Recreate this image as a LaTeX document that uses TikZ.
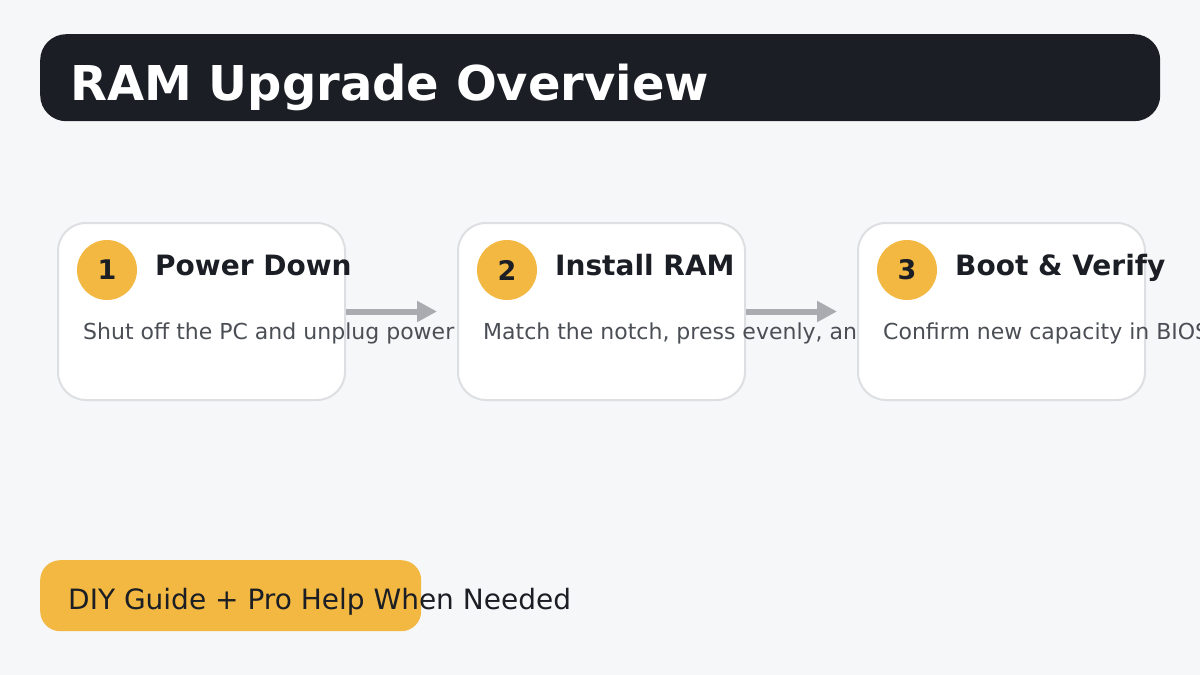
\documentclass[tikz,border=0pt]{standalone}
\usepackage{fontspec}
\setmainfont{DejaVu Sans}
\usetikzlibrary{arrows.meta}

\definecolor{bg}{HTML}{F6F7F9}
\definecolor{ink}{HTML}{1B1E24}
\definecolor{amber}{HTML}{F3B841}
\definecolor{edge}{HTML}{DDDFE2}
\definecolor{muted}{HTML}{4B4F55}
\definecolor{shaft}{HTML}{A9ABB0}

\newcommand{\fsz}[1]{\fontsize{#1}{#1}\selectfont}

\begin{document}
\begin{tikzpicture}[x=1pt, y=-1pt,
    card/.style={draw=edge, line width=2pt, fill=white, rounded corners=28pt,
        minimum width=287pt, minimum height=177pt, inner sep=0pt, anchor=north west},
    badge/.style={circle, fill=amber, minimum size=60pt, inner sep=0pt,
        text=ink, font=\bfseries\fsz{27}},
    head/.style={anchor=base west, inner sep=0pt, text=ink, font=\bfseries\fsz{28}},
    body/.style={anchor=base west, inner sep=0pt, text=muted, font=\fsz{22}},
    flow/.style={draw=shaft, line width=6pt, -{Triangle[length=20pt,width=20pt]},
        shorten >=20pt}]
    \useasboundingbox (0,0) rectangle (1200,675);
    \fill [bg] (0,0) rectangle (1200,675);
    % title bar
    \node [anchor=north west, fill=ink, rounded corners=26pt, minimum width=1120pt,
        minimum height=87pt, inner sep=0pt] (banner) at (40,34) {};
    \node [anchor=base west, inner sep=0pt, text=white, font=\bfseries\fsz{48}]
        (title) at (70,100) {RAM Upgrade Overview};
    % step 1
    \node [card] (card1) at (57,222) {};
    \node [badge] (num1) at (107,270) {1};
    \node [head] (head1) at (155,275) {Power Down};
    \node [body] (text1) at (83,339) {Shut off the PC and unplug power};
    % step 2
    \node [card] (card2) at (457,222) {};
    \node [badge] (num2) at (507,270) {2};
    \node [head] (head2) at (555,275) {Install RAM};
    \node [body] (text2) at (483,339) {Match the notch, press evenly, an};
    % step 3
    \node [card] (card3) at (857,222) {};
    \node [badge] (num3) at (907,270) {3};
    \node [head] (head3) at (955,275) {Boot \& Verify};
    \node [body] (text3) at (883,339) {Confirm new capacity in BIOS};
    % arrows
    \draw [flow] (card1.east) to (card2.west);
    \draw [flow] (card2.east) to (card3.west);
    % footer
    \node [anchor=north west, fill=amber, rounded corners=20pt, minimum width=381pt,
        minimum height=71pt, inner sep=0pt] (pill) at (40,560) {};
    \node [anchor=base west, inner sep=0pt, text=ink, font=\fsz{28}]
        (tagline) at (68,609) {DIY Guide + Pro Help When Needed};
\end{tikzpicture}
\end{document}
